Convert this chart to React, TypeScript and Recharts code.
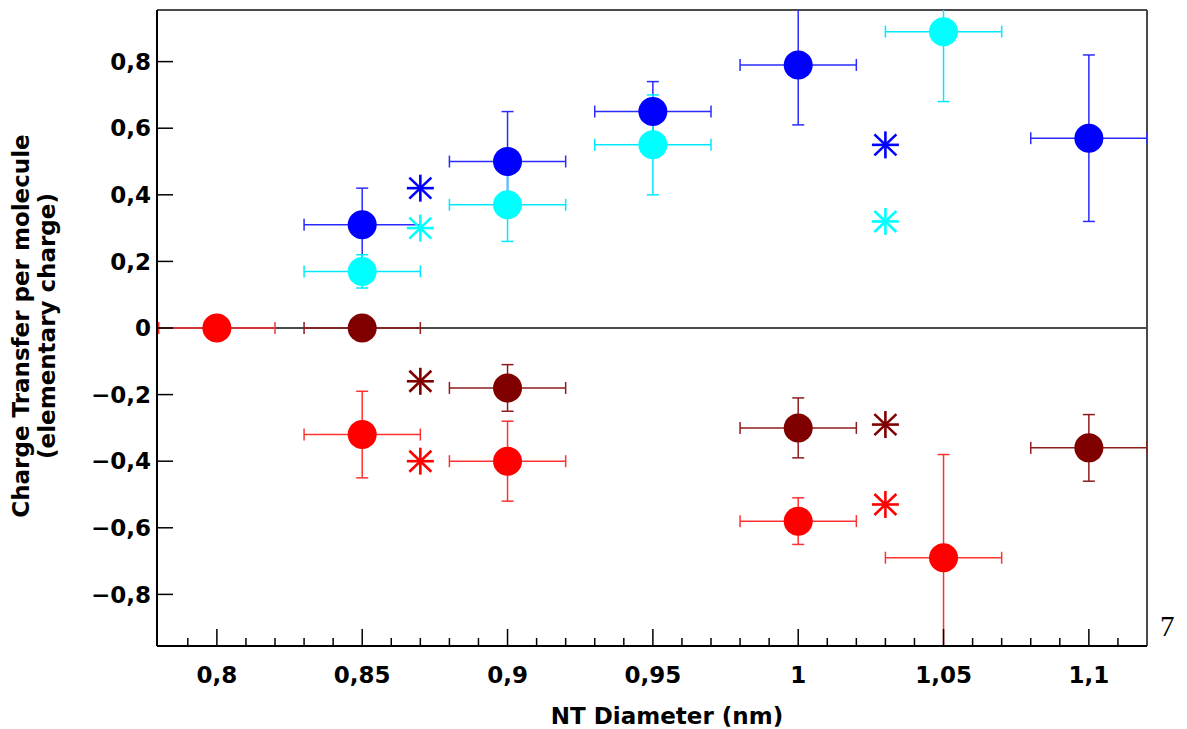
import { ScatterChart, Scatter, XAxis, YAxis, ErrorBar, ReferenceLine } from 'recharts';

// diameters (nm) and charge transfer values
const blueX = [0.85, 0.9, 0.95, 1.0, 1.1];
const blueY = [0.31, 0.5, 0.65, 0.79, 0.57];
const blueErrX = [0.02, 0.02, 0.02, 0.02, 0.02];
const blueErrY = [0.11, 0.15, 0.09, 0.18, 0.25];

const cyanX = [0.85, 0.9, 0.95, 1.05];
const cyanY = [0.17, 0.37, 0.55, 0.89];
const cyanErrX = [0.02, 0.02, 0.02, 0.02];
const cyanErrY = [0.05, 0.11, 0.15, 0.21];

const darkRedX = [0.85, 0.9, 1.0, 1.1];
const darkRedY = [0, -0.18, -0.3, -0.36];
const darkRedErrX = [0.02, 0.02, 0.02, 0.02];
const darkRedErrY = [0, 0.07, 0.09, 0.1];

const redX = [0.8, 0.85, 0.9, 1.0, 1.05];
const redY = [0, -0.32, -0.4, -0.58, -0.69];
const redErrX = [0.02, 0.02, 0.02, 0.02, 0.02];
const redErrY = [0, 0.13, 0.12, 0.07, 0.31];

// asterisk markers (no error bars)
const starX = [0.87, 1.03];
const blueStarY = [0.42, 0.55];
const cyanStarY = [0.3, 0.32];
const darkRedStarY = [-0.16, -0.29];
const redStarY = [-0.4, -0.53];

const xTicks = [
  0.79, 0.8, 0.81, 0.82, 0.83, 0.84, 0.85, 0.86, 0.87, 0.88, 0.89, 0.9, 0.91, 0.92, 0.93, 0.94,
  0.95, 0.96, 0.97, 0.98, 0.99, 1.0, 1.01, 1.02, 1.03, 1.04, 1.05, 1.06, 1.07, 1.08, 1.09, 1.1, 1.11
];
const xMajorTicks = [0.8, 0.85, 0.9, 0.95, 1.0, 1.05, 1.1];
const yTicks = [-0.8, -0.6, -0.4, -0.2, 0, 0.2, 0.4, 0.6, 0.8];

const X_MIN = 0.7794;
const X_MAX = 1.12;
const Y_MAX = 0.955;

const FONT = '"DejaVu Sans", Verdana, sans-serif';
const FONT_SIZE = 23;

const toPoints = (xs: number[], ys: number[], exs?: number[], eys?: number[]) =>
  xs.map((x, i) => ({ x, y: ys[i], ex: exs ? exs[i] : 0, ey: eys ? eys[i] : 0 }));

const fmt = (v: number) => {
  if (Math.abs(v) < 1e-9) return '0';
  const s = String(Math.round(Math.abs(v) * 100) / 100).replace('.', ',');
  return v < 0 ? '\u2212' + s : s;
};

const XTick = (props: any) => {
  const { x, y, payload } = props;
  const major = xMajorTicks.some((m) => Math.abs(m - payload.value) < 1e-6);
  return (
    <g>
      <line x1={x} x2={x} y1={y} y2={y - (major ? 17 : 8)} stroke="#000" strokeWidth={1.5} />
      {major && (
        <text x={x} y={y + 37} textAnchor="middle" fontFamily={FONT} fontWeight="bold" fontSize={FONT_SIZE} fill="#000">
          {fmt(payload.value)}
        </text>
      )}
    </g>
  );
};

const YTick = (props: any) => {
  const { x, y, payload } = props;
  return (
    <g>
      <line x1={x} x2={x + 16} y1={y} y2={y} stroke="#000" strokeWidth={1.5} />
      <text x={x - 6} y={y} dy="0.36em" textAnchor="end" fontFamily={FONT} fontWeight="bold" fontSize={FONT_SIZE} fill="#000">
        {fmt(payload.value)}
      </text>
    </g>
  );
};

// plot-area clip so error bars running past the frame are cut like in the original
const PlotClip = () => (
  <defs>
    <clipPath id="plot-clip" clipPathUnits="userSpaceOnUse">
      <rect x={157} y={10} width={990} height={636} />
    </clipPath>
  </defs>
);

const dot = (color: string) => (p: any) => <circle cx={p.cx} cy={p.cy} r={14.5} fill={color} />;

const star = (color: string) => (p: any) => {
  const { cx, cy } = p;
  return (
    <g stroke={color} strokeWidth={2.6}>
      <line x1={cx} x2={cx} y1={cy - 13.5} y2={cy + 13.5} />
      <line x1={cx - 13.5} x2={cx + 13.5} y1={cy} y2={cy} />
      <line x1={cx - 11} x2={cx + 11} y1={cy - 10.5} y2={cy + 10.5} />
      <line x1={cx - 11} x2={cx + 11} y1={cy + 10.5} y2={cy - 10.5} />
    </g>
  );
};

const series = [
  { color: '#0000ff', bar: '#2b2bff', data: toPoints(blueX, blueY, blueErrX, blueErrY) },
  { color: '#00ffff', bar: '#00eaff', data: toPoints(cyanX, cyanY, cyanErrX, cyanErrY) },
  { color: '#800000', bar: '#8e1c1c', data: toPoints(darkRedX, darkRedY, darkRedErrX, darkRedErrY) },
  { color: '#ff0000', bar: '#ff3232', data: toPoints(redX, redY, redErrX, redErrY) }
];

const stars = [
  { color: '#0000ff', data: toPoints(starX, blueStarY) },
  { color: '#00ffff', data: toPoints(starX, cyanStarY) },
  { color: '#800000', data: toPoints(starX, darkRedStarY) },
  { color: '#ff0000', data: toPoints(starX, redStarY) }
];

export default function App() {
  return (
    <div style={{ position: 'absolute', left: 0, top: 0, width: 1187, height: 729, background: '#fff' }}>
      <style>{'.recharts-errorBars, .recharts-errorBar { clip-path: url(#plot-clip); }'}</style>
      <ScatterChart width={1187} height={729} margin={{ top: 10, right: 40, bottom: 0, left: 0 }}>
        <PlotClip />
        <XAxis
          type="number"
          dataKey="x"
          domain={[X_MIN, X_MAX]}
          allowDataOverflow
          ticks={xTicks}
          interval={0}
          tickSize={0}
          tickMargin={0}
          tickLine={false}
          tick={<XTick />}
          axisLine={{ stroke: '#000', strokeWidth: 2 }}
          height={83}
          label={{
            content: (p: any) => {
              const vb = p.viewBox;
              return (
                <text x={vb.x + vb.width / 2 + 15} y={724} textAnchor="middle" fontFamily={FONT} fontWeight="bold" fontSize={FONT_SIZE} fill="#000">
                  NT Diameter (nm)
                </text>
              );
            }
          }}
        />
        <YAxis
          type="number"
          dataKey="y"
          domain={[-Y_MAX, Y_MAX]}
          allowDataOverflow
          ticks={yTicks}
          interval={0}
          tickSize={0}
          tickMargin={0}
          tickLine={false}
          tick={<YTick />}
          axisLine={{ stroke: '#000', strokeWidth: 2 }}
          width={157}
          label={{
            content: (p: any) => {
              const vb = p.viewBox;
              const cy = vb.y + vb.height / 2 - 2;
              return (
                <g fontFamily={FONT} fontWeight="bold" fontSize={FONT_SIZE} fill="#000">
                  <text x={21} y={cy} textAnchor="middle" dominantBaseline="central" transform={`rotate(-90 21 ${cy})`}>
                    Charge Transfer per molecule
                  </text>
                  <text x={47} y={cy} textAnchor="middle" dominantBaseline="central" transform={`rotate(-90 47 ${cy})`}>
                    (elementary charge)
                  </text>
                </g>
              );
            }
          }}
        />
        <ReferenceLine y={0} stroke="#4a4a4a" strokeWidth={2} />
        <ReferenceLine y={Y_MAX} stroke="#4a4a4a" strokeWidth={2} />
        <ReferenceLine x={X_MAX} stroke="#4a4a4a" strokeWidth={2} />
        {series.map((s, i) => (
          <Scatter key={'s' + i} data={s.data} shape={dot(s.color)} isAnimationActive={false}>
            <ErrorBar dataKey="ex" direction="x" width={6} stroke={s.bar} strokeWidth={1.5} isAnimationActive={false} />
            <ErrorBar dataKey="ey" direction="y" width={6} stroke={s.bar} strokeWidth={1.5} isAnimationActive={false} />
          </Scatter>
        ))}
        {stars.map((s, i) => (
          <Scatter key={'a' + i} data={s.data} shape={star(s.color)} isAnimationActive={false} />
        ))}
      </ScatterChart>
      <div
        style={{
          position: 'absolute',
          left: 1160,
          top: 612,
          fontFamily: '"Liberation Serif", serif',
          fontSize: 29,
          lineHeight: '29px',
          color: '#000'
        }}
      >
        7
      </div>
    </div>
  );
}
